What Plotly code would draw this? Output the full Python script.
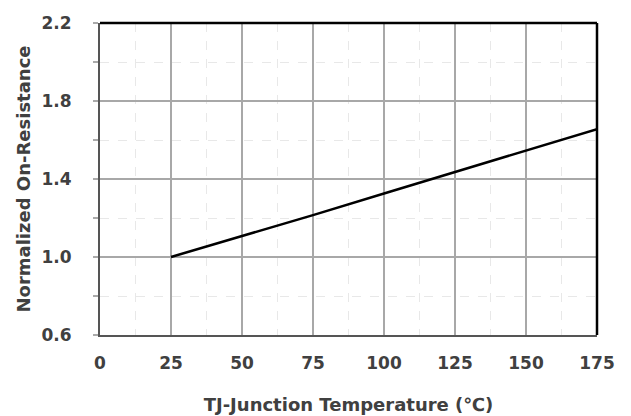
import plotly.graph_objects as go

temps = [25, 50, 75, 100, 125, 150, 175]
rds_norm = [1.0, 1.107, 1.215, 1.326, 1.436, 1.546, 1.656]

x_ticks = [0, 25, 50, 75, 100, 125, 150, 175]
y_ticks = [0.6, 1.0, 1.4, 1.8, 2.2]
y_tick_text = ["0.6", "1.0", "1.4", "1.8", "2.2"]

tick_font = dict(family="DejaVu Sans, sans-serif", size=17, color="#404040", weight="bold")
title_font = dict(family="DejaVu Sans, sans-serif", size=18, color="#404040", weight="bold")

fig = go.Figure()
fig.add_trace(go.Scatter(x=temps, y=rds_norm, mode="lines",
                         line=dict(color="#000000", width=2.5), showlegend=False))

fig.update_layout(
    width=623, height=408,
    margin=dict(l=92, r=34, t=15, b=81, autoexpand=False),
    paper_bgcolor="white", plot_bgcolor="white",
    font=tick_font,
    xaxis=dict(range=[0, 175], tickvals=x_ticks, ticktext=[str(v) for v in x_ticks],
               tickfont=tick_font,
               showgrid=True, gridcolor="#a8a8a8", gridwidth=1.5,
               minor=dict(dtick=12.5, tick0=0, showgrid=True, gridcolor="#e8e8e8", griddash="dash", gridwidth=1),
               showline=True, linecolor="#555555", linewidth=2,
               ticks="", ticklabelstandoff=12,
               title=dict(text="TJ-Junction Temperature (℃)", font=title_font, standoff=26),
               zeroline=False, fixedrange=True),
    yaxis=dict(range=[0.6, 2.2], tickvals=y_ticks, ticktext=y_tick_text,
               tickfont=tick_font,
               showgrid=True, gridcolor="#a8a8a8", gridwidth=1.5,
               minor=dict(dtick=0.2, tick0=0.6, showgrid=True, gridcolor="#e8e8e8", griddash="dash", gridwidth=1,
                          ticks="outside", ticklen=5, tickcolor="#aaaaaa", tickwidth=1.5),
               showline=True, linecolor="#555555", linewidth=2,
               ticks="outside", ticklen=5, tickcolor="#aaaaaa", tickwidth=1.5,
               ticklabelstandoff=18,
               title=dict(text="Normalized On-Resistance", font=title_font, standoff=6),
               zeroline=False, fixedrange=True),
)

fig.add_shape(type="line", xref="paper", yref="paper", x0=0, x1=1, y0=1, y1=1,
              line=dict(color="black", width=2.5))
fig.add_shape(type="line", xref="paper", yref="paper", x0=1, x1=1, y0=0, y1=1,
              line=dict(color="black", width=2.5))

fig.write_html("out.html")
